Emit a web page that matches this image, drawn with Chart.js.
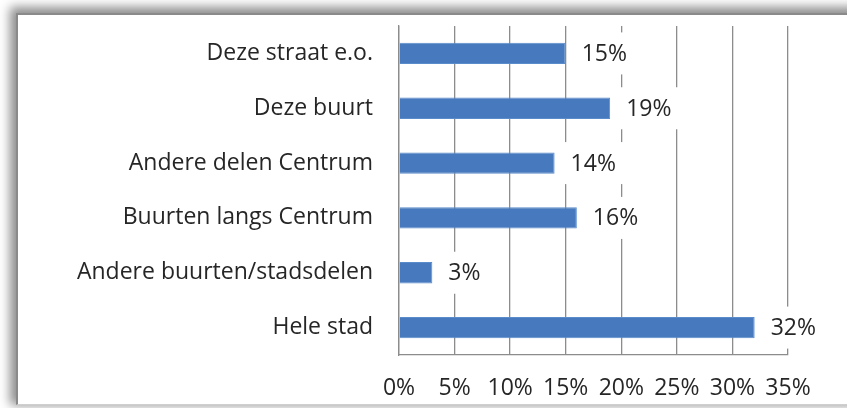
<!DOCTYPE html>
<html>
<head>
<meta charset="utf-8">
<script src="https://cdn.jsdelivr.net/npm/chart.js@4.4.1/dist/chart.umd.min.js"></script>
<style>
  html, body { margin:0; padding:0; background:#ffffff; width:847px; height:408px; overflow:hidden; }
  #frame { position:absolute; left:16px; top:13px; width:1000px; height:392px;
           background:#ffffff; border-left:2px solid #8a8a8a; border-top:2px solid #8a8a8a;
           border-bottom:1px solid #cfcfcf;
           box-shadow: -3px -3px 10px 3px rgba(0,0,0,0.45); box-sizing:border-box; }
  #wrap { position:absolute; left:0; top:0; width:847px; height:408px; }
</style>
</head>
<body>
<div id="frame"></div>
<div id="wrap"><canvas id="c" width="847" height="408"></canvas></div>
<script>
const categories = ["Deze straat e.o.", "Deze buurt", "Andere delen Centrum", "Buurten langs Centrum", "Andere buurten/stadsdelen", "Hele stad"];
const values = [15, 19, 14, 16, 3, 32];
const tickValues = [0, 5, 10, 15, 20, 25, 30, 35];

const FONT = "'Open Sans', 'Noto Sans', sans-serif";
const FSIZE = 23;
const TEXT = "#262626";

const labelPlugin = {
  id: 'barLabels',
  afterDatasetsDraw(chart) {
    const ctx = chart.ctx;
    const meta = chart.getDatasetMeta(0);
    ctx.save();
    ctx.font = FSIZE + "px " + FONT;
    ctx.textBaseline = 'middle';
    ctx.textAlign = 'left';
    meta.data.forEach((bar, i) => {
      const txt = values[i] + "%";
      const w = ctx.measureText(txt).width;
      const x0 = bar.x + 7;
      ctx.fillStyle = '#ffffff';
      ctx.fillRect(x0, bar.y - 21, w + 19, 42);
      ctx.fillStyle = TEXT;
      ctx.fillText(txt, bar.x + 16, bar.y + 1);
    });
    ctx.restore();
  }
};

new Chart(document.getElementById('c'), {
  type: 'bar',
  data: {
    labels: categories,
    datasets: [{
      data: values,
      backgroundColor: '#4679BD',
      borderColor: '#5a8bcb',
      borderWidth: 1,
      borderSkipped: 'start',
      categoryPercentage: 1.0,
      barPercentage: 0.39
    }]
  },
  options: {
    indexAxis: 'y',
    responsive: false,
    animation: false,
    devicePixelRatio: 1,
    layout: { padding: { left: 0, right: 59, top: 26, bottom: 0 } },
    plugins: { legend: { display: false }, tooltip: { enabled: false } },
    scales: {
      x: {
        min: 0, max: 35,
        afterBuildTicks(scale) { scale.ticks = tickValues.map(v => ({ value: v })); },
        afterFit(scale) { scale.height = 53; },
        grid: { color: '#8c8c8c', lineWidth: 1.3, drawTicks: false },
        border: { color: '#8c8c8c', width: 1.3 },
        ticks: {
          padding: 20,
          color: TEXT,
          font: { family: FONT, size: FSIZE },
          callback: (v) => v + '%'
        }
      },
      y: {
        afterFit(scale) { scale.width = 399; scale.paddingTop = 0; scale.paddingBottom = 0; },
        grid: { display: false, drawTicks: false },
        border: { color: '#8c8c8c', width: 1.3 },
        ticks: {
          padding: 26,
          color: TEXT,
          font: { family: FONT, size: FSIZE }
        }
      }
    }
  },
  plugins: [labelPlugin]
});
</script>
</body>
</html>
